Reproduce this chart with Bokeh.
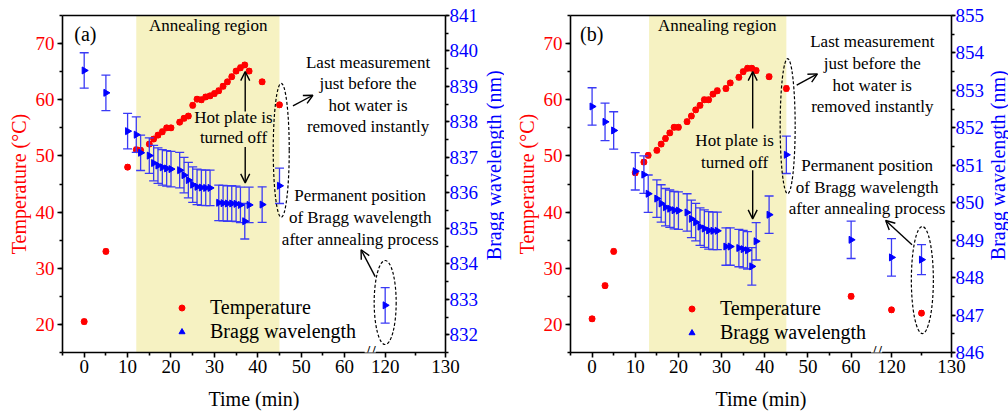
import numpy as np
from bokeh.plotting import figure
from bokeh.models import (Range1d, LinearAxis, FixedTicker, SingleIntervalTicker,
                          CustomJSTickFormatter, BoxAnnotation, Label, Arrow, OpenHead,
                          Legend, LegendItem)
from bokeh.layouts import row
from bokeh.embed import file_html
from bokeh.resources import INLINE

FONT = "Liberation Serif, Times New Roman, serif"
H = 413

# ---------------- data: panel (a) ----------------
time_temp_a = [0, 5, 10, 12, 13, 15, 16, 17, 18, 19, 20, 22, 23, 24, 25, 26, 27, 28, 29, 30,
               31, 32, 33, 34, 35, 36, 37, 38, 41, 45]
temp_a = [20.5, 33.0, 48.0, 51.1, 51.0, 52.1, 53.0, 53.7, 54.3, 55.0, 55.0, 56.0, 56.7, 57.1,
          59.0, 60.1, 60.0, 60.5, 60.7, 61.1, 61.6, 62.4, 63.2, 64.1, 65.1, 65.7, 66.2, 65.1,
          63.2, 59.1]
temp_err_a = [0.4] * len(temp_a)

time_wl_a = [0, 5, 10, 12, 13, 15, 16, 17, 18, 19, 20, 22, 23, 24, 25, 26, 27, 28, 29,
             31, 32, 33, 34, 35, 36, 37, 38, 41, 45, 120]
wl_a = [839.45, 838.82, 837.74, 837.64, 837.13, 837.05, 836.84, 836.77, 836.72, 836.69, 836.67,
        836.64, 836.50, 836.36, 836.23, 836.17, 836.15, 836.14, 836.14, 835.72, 835.71, 835.70,
        835.70, 835.69, 835.66, 835.20, 835.66, 835.67, 836.20, 832.83]
wl_err_a = [0.5] * len(wl_a)

# ---------------- data: panel (b) ----------------
time_temp_b = [0, 3, 5, 10, 12, 13, 15, 16, 17, 18, 19, 20, 22, 23, 24, 25, 26, 27, 28, 29,
               31, 32, 34, 35, 36, 37, 38, 41, 45, 60, 120, 125]
temp_b = [21.0, 26.9, 33.0, 47.0, 48.9, 50.1, 51.0, 52.1, 53.1, 54.1, 55.1, 55.1, 56.1, 57.1,
          58.2, 59.0, 60.0, 60.0, 61.0, 61.6, 62.0, 63.0, 64.0, 65.0, 65.6, 65.6, 65.2, 64.1,
          62.0, 25.0, 22.6, 22.0]
temp_err_b = [0.4] * len(temp_b)

time_wl_b = [0, 3, 5, 10, 12, 13, 15, 16, 17, 18, 19, 20, 22, 23, 24, 25, 26, 27, 28, 29,
             31, 32, 34, 35, 36, 37, 38, 41, 45, 60, 120, 125]
wl_b = [852.57, 852.16, 851.93, 850.84, 850.75, 850.24, 850.11, 849.98, 849.88, 849.84, 849.80,
        849.79, 849.74, 849.57, 849.48, 849.36, 849.31, 849.26, 849.25, 849.25, 848.83, 848.83,
        848.79, 848.76, 848.73, 848.30, 848.97, 849.68, 851.28, 849.01, 848.54, 848.48]
wl_err_b = [0.5] * (len(wl_b) - 1) + [0.4]

anneal_a = [12, 45]
anneal_b = [13.2, 45]

x_ticks_min = [0, 10, 20, 30, 40, 50, 60, 120, 130]
x_minor_min = [-5, 5, 15, 25, 35, 45, 55, 125]

# broken time axis: linear up to 65 min, compressed segment around 120-130 min
X_BREAK = 65.9
X120 = 69.35
K = 1.39


def tx(ts):
    return [t if t <= 65 else X120 + (t - 120) * K for t in ts]


def style_axis(ax, color):
    ax.axis_line_width = 1.6
    ax.axis_line_color = "black"
    ax.major_tick_line_width = 1.6
    ax.minor_tick_line_width = 1.6
    ax.major_tick_line_color = "black"
    ax.minor_tick_line_color = "black"
    ax.major_tick_in = 0
    ax.major_tick_out = 5
    ax.minor_tick_in = 0
    ax.minor_tick_out = 3
    ax.major_label_text_font = FONT
    ax.major_label_text_font_size = "19px"
    ax.major_label_text_color = color
    ax.axis_label_text_font = FONT
    ax.axis_label_text_font_size = "20px"
    ax.axis_label_text_font_style = "normal"
    ax.axis_label_text_color = color


def text(p, x, y, s, size="17px", align="center"):
    p.add_layout(Label(x=x, y=y, text=s, text_font=FONT, text_font_size=size,
                       text_align=align, text_baseline="middle", text_color="black"))


def arrow(p, x0, y0, x1, y1):
    p.add_layout(Arrow(end=OpenHead(size=9, line_width=1.4, line_color="black"),
                       x_start=x0, y_start=y0, x_end=x1, y_end=y1,
                       line_width=1.4, line_color="black"))


def make_panel(t_temp, temp, temp_err, t_wl, wl, wl_err, wl_range, anneal, width, bl, br,
               legend_loc, ann):
    p = figure(width=width, height=H, x_range=Range1d(-5, 83.25), y_range=Range1d(15, 75),
               output_backend="svg", toolbar_location=None,
               min_border_left=bl, min_border_right=br, min_border_top=15, min_border_bottom=61,
               outline_line_color=None, background_fill_color="white",
               border_fill_color="white")
    p.extra_y_ranges = {"wl": Range1d(*wl_range)}
    p.xgrid.visible = False
    p.ygrid.visible = False

    # axes
    xa = p.xaxis[0]
    xa.ticker = FixedTicker(ticks=tx(x_ticks_min), minor_ticks=tx(x_minor_min))
    xa.formatter = CustomJSTickFormatter(args=dict(x120=X120, k=K), code="""
        if (tick > 65) { return String(Math.round(120 + (tick - x120) / k)); }
        return String(Math.round(tick));
    """)
    xa.axis_label = "Time (min)"
    style_axis(xa, "black")
    xa.major_label_standoff = 2
    xa.axis_label_standoff = 12

    ya = p.yaxis[0]
    ya.ticker = SingleIntervalTicker(interval=10, num_minor_ticks=2)
    ya.axis_label = "Temperature (°C)"
    style_axis(ya, "#ff0000")
    ya.major_label_standoff = 3
    ya.axis_label_standoff = 3

    ra = LinearAxis(y_range_name="wl",
                    ticker=SingleIntervalTicker(interval=1, num_minor_ticks=2))
    style_axis(ra, "#0000ff")
    ra.major_tick_out = 4
    ra.major_label_standoff = 0
    p.add_layout(ra, "right")

    ta = LinearAxis(ticker=FixedTicker(ticks=[]), major_label_text_font_size="0px",
                    major_tick_out=0, minor_tick_out=0, axis_line_width=1.6)
    p.add_layout(ta, "above")

    # annealing region
    p.add_layout(BoxAnnotation(left=anneal[0], right=anneal[1], fill_color="#f6f2c2",
                               fill_alpha=1.0, line_color=None, level="underlay"))

    # temperature
    xt = tx(t_temp)
    lo = [v - e for v, e in zip(temp, temp_err)]
    hi = [v + e for v, e in zip(temp, temp_err)]
    p.segment(xt, lo, xt, hi, line_color="#ff0000", line_width=1.3)
    p.scatter(xt, lo, marker="dash", size=5, line_color="#ff0000", line_width=1.3)
    p.scatter(xt, hi, marker="dash", size=5, line_color="#ff0000", line_width=1.3)
    r_temp = p.scatter(xt, temp, marker="circle", size=6, fill_color="#ff0000",
                       line_color="#ff0000")

    # Bragg wavelength
    xw = tx(t_wl)
    lo = [v - e for v, e in zip(wl, wl_err)]
    hi = [v + e for v, e in zip(wl, wl_err)]
    p.segment(xw, lo, xw, hi, line_color="#3a3af5", line_width=1.3, y_range_name="wl")
    p.scatter(xw, lo, marker="dash", size=9, line_color="#3a3af5", line_width=1.3,
              y_range_name="wl")
    p.scatter(xw, hi, marker="dash", size=9, line_color="#3a3af5", line_width=1.3,
              y_range_name="wl")
    r_wl = p.scatter(xw, wl, marker="triangle", angle=-np.pi / 2, size=7,
                     fill_color="#0000ff", line_color="#0000ff", y_range_name="wl")

    # annotations
    text(p, ann["tag"][0], ann["tag"][1], ann["tag"][2], size="20px", align="left")
    text(p, ann["region"][0], ann["region"][1], "Annealing region")
    for s, y in zip(["Hot plate is", "turned off"], ann["hot_y"]):
        text(p, ann["hot_x"], y, s)
    ux, uy0, uy1 = ann["up"]
    arrow(p, ux, uy0, ux, uy1)
    dx, dy0, dy1 = ann["down"]
    arrow(p, dx, dy0, dx, dy1)
    for s, y in zip(["Last measurement", "just before the", "hot water is",
                     "removed instantly"], ann["last_y"]):
        text(p, ann["last_x"], y, s)
    arrow(p, *ann["arrow1"])
    for s, y in zip(["Permanent position", "of Bragg wavelength",
                     "after annealing process"], ann["perm_y"]):
        text(p, ann["perm_x"], y, s)
    arrow(p, *ann["arrow2"])
    for (ex, ey, ew, eh) in ann["ellipses"]:
        p.ellipse(x=[ex], y=[ey], width=ew, height=eh, width_units="screen",
                  height_units="screen", fill_color=None, line_color="black",
                  line_width=1.2, line_dash="3 2")

    # axis break mark
    p.add_layout(Label(x=X_BREAK, y=15, text="//", text_font=FONT, text_font_size="20px",
                       text_align="center", text_baseline="middle", text_color="black",
                       background_fill_color="white"))

    legend = Legend(items=[LegendItem(label="Temperature", renderers=[r_temp]),
                           LegendItem(label="Bragg wavelength", renderers=[r_wl])],
                    location=legend_loc, background_fill_alpha=0, border_line_color=None,
                    label_text_font=FONT, label_text_font_size="20px",
                    label_text_color="black", glyph_width=15,
                    glyph_height=15, label_height=22, label_standoff=21, padding=0,
                    spacing=1, margin=0)
    p.add_layout(legend)
    return p


def side_title(width, text_str):
    # narrow strip carrying the right-hand axis title, reading bottom-to-top
    t = figure(width=width, height=H, x_range=Range1d(0, width), y_range=Range1d(0, H),
               output_backend="svg", toolbar_location=None, x_axis_location=None,
               y_axis_location=None, min_border=0, outline_line_color=None,
               background_fill_color="white", border_fill_color="white")
    t.grid.visible = False
    t.add_layout(Label(x=width / 2, y=H - 183.5, text=text_str, angle=np.pi / 2,
                       text_font=FONT, text_font_size="20px", text_color="#0000ff",
                       text_align="center", text_baseline="middle"))
    return t


ann_a = dict(
    tag=(-2.3, 71.7, "(a)"),
    region=(28.6, 73.2),
    hot_x=34.4, hot_y=[56.9, 53.3],
    up=(37.1, 57.9, 65.0), down=(37.1, 51.6, 45.2),
    last_x=65.4, last_y=[66.7, 62.9, 59.05, 55.2],
    arrow1=(48.1, 58.9, 52.7, 60.8),
    perm_x=63.6, perm_y=[43.0, 39.1, 35.1],
    arrow2=(67.05, 28.5, 63.8, 33.3),
    ellipses=[(tx([45])[0] + 0.4, 51.0, 16, 134), (tx([120])[0], 23.9, 22, 84)],
)

ann_b = dict(
    tag=(-2.8, 71.7, "(b)"),
    region=(29.0, 73.2),
    hot_x=33.0, hot_y=[52.8, 48.9],
    up=(37.2, 54.9, 65.0), down=(37.2, 47.45, 38.8),
    last_x=64.9, last_y=[70.36, 66.5, 62.6, 58.75],
    arrow1=(47.4, 62.6, 52.2, 64.6),
    perm_x=63.7, perm_y=[48.3, 44.4, 40.6],
    arrow2=(74.1, 34.2, 68.0, 38.5),
    ellipses=[(tx([45])[0] + 0.3, 55.3, 15, 135), (tx([125])[0] + 0.2, 27.9, 22, 107)],
)

pa = make_panel(time_temp_a, temp_a, temp_err_a, time_wl_a, wl_a, wl_err_a, (831.5, 841),
                anneal_a, 482, 62, 37, (112, 9), ann_a)
ta_title = side_title(22, "Bragg wavelength (nm)")
pb = make_panel(time_temp_b, temp_b, temp_err_b, time_wl_b, wl_b, wl_err_b, (846, 855),
                anneal_b, 483, 66, 34, (114, 8), ann_b)
tb_title = side_title(21, "Bragg wavelength (nm)")

layout = row(pa, ta_title, pb, tb_title)
open("out.html", "w").write(file_html(layout, INLINE))
